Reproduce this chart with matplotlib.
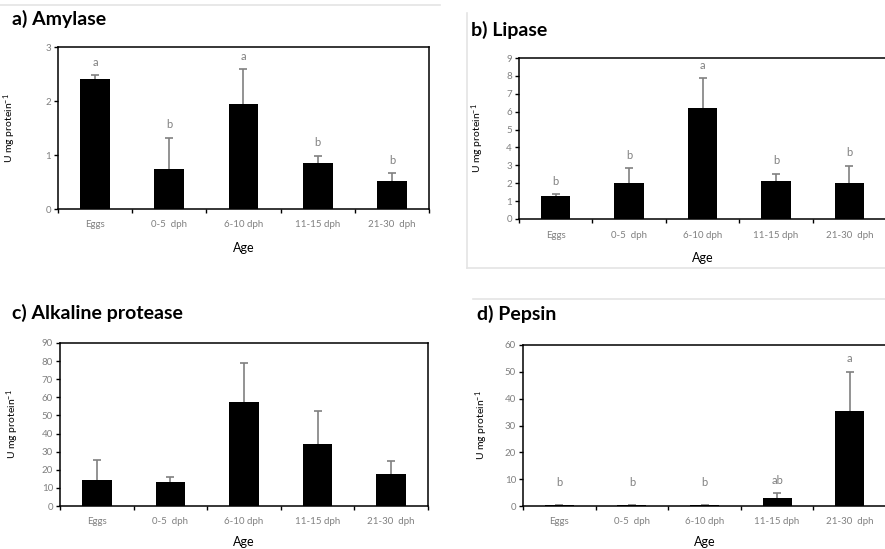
import matplotlib
matplotlib.use("Agg")
import matplotlib.pyplot as plt
from matplotlib.lines import Line2D

plt.rcParams['font.family'] = ['Lato', 'DejaVu Sans']
plt.rcParams['mathtext.fontset'] = 'custom'
plt.rcParams['mathtext.rm'] = 'Lato'
plt.rcParams['mathtext.it'] = 'Lato:italic'
plt.rcParams['mathtext.bf'] = 'Lato:bold'

# ---------------- data ----------------
categories = ['Eggs', '0-5  dph', '6-10 dph', '11-15 dph', '21-30  dph']

amylase_mean = [2.41, 0.74, 1.94, 0.85, 0.52]
amylase_err = [0.07, 0.58, 0.65, 0.14, 0.14]
amylase_letters = ['a', 'b', 'a', 'b', 'b']

lipase_mean = [1.30, 2.04, 6.22, 2.11, 2.04]
lipase_err = [0.07, 0.81, 1.65, 0.41, 0.94]
lipase_letters = ['b', 'b', 'a', 'b', 'b']

alkaline_mean = [14.1, 13.5, 57.4, 34.3, 17.8]
alkaline_err = [11.1, 2.6, 21.3, 18.1, 6.8]
alkaline_letters = ['', '', '', '', '']

pepsin_mean = [0.2, 0.3, 0.2, 3.1, 35.4]
pepsin_err = [0.0, 0.0, 0.0, 1.6, 14.6]
pepsin_letters = ['b', 'b', 'b', 'ab', 'a']

W, H = 885, 549
fig = plt.figure(figsize=(W / 100, H / 100), dpi=100)
fig.patch.set_facecolor('white')

GRAY = '#808080'
LINEGRAY = '#e4e4e4'


def rect(l, r, t, b):
    return [l / W, 1 - b / H, (r - l) / W, (b - t) / H]


def panel(box, title, title_xy, means, errs, letters, ymax, ystep,
          ylab_dist, xtick_dist, xlab_dist, letter_floor=0.0):
    l, r, t, b = box
    ax = fig.add_axes(rect(l, r, t, b))
    wpx, hpx = r - l, b - t
    x = list(range(len(categories)))
    eb = ax.errorbar(x, means, yerr=[[0] * len(errs), errs], fmt='none',
                     ecolor=GRAY, elinewidth=1.2, capsize=3, capthick=1.2, zorder=1)
    # only the upper caps are shown
    eb[1][0].set_visible(False)
    ax.bar(x, means, width=0.4, color='black', zorder=2)
    ax.set_xlim(-0.5, len(categories) - 0.5)
    ax.set_ylim(0, ymax)
    n = int(round(ymax / ystep))
    ax.set_yticks([i * ystep for i in range(n + 1)])
    ax.set_yticklabels([f'{i * ystep:g}' for i in range(n + 1)])
    ax.tick_params(axis='y', direction='out', length=3, width=1, colors='black',
                   labelcolor=GRAY, labelsize=7, pad=2)
    # category boundaries as major ticks, labels as minor ticks at centers
    ax.set_xticks([i - 0.5 for i in range(len(categories) + 1)])
    ax.set_xticklabels([''] * (len(categories) + 1))
    ax.set_xticks(x, minor=True)
    ax.set_xticklabels(categories, minor=True)
    ax.tick_params(axis='x', which='major', direction='out', length=3, width=1)
    ax.tick_params(axis='x', which='minor', length=0, labelcolor=GRAY,
                   labelsize=7, pad=xtick_dist * 0.72)
    for lbl in ax.get_xticklabels(minor=True):
        lbl.set_va('center')
    for s in ax.spines.values():
        s.set_linewidth(1.1)
        s.set_color('black')
    ax.set_ylabel('U mg protein$^{-1}$', fontsize=7.5, color='black', va='center')
    ax.yaxis.set_label_coords(-ylab_dist / wpx, 0.5)
    ax.set_xlabel('Age', fontsize=9, color='black', va='center')
    ax.xaxis.set_label_coords(0.5, -xlab_dist / hpx)
    # significance letters
    off = 13 * ymax / hpx
    for xi, m, e, let in zip(x, means, errs, letters):
        if let:
            ax.text(xi, max(m + e + off, letter_floor), let, ha='center',
                    va='center', fontsize=8, color=GRAY)
    fig.text(title_xy[0] / W, 1 - title_xy[1] / H, title, fontsize=14,
             fontweight='bold', ha='left', va='center')
    return ax


panel((58, 429, 47, 209), 'a) Amylase', (12, 19), amylase_mean, amylase_err,
      amylase_letters, 3, 1, 48, 15, 39)
panel((519, 886, 58, 219), 'b) Lipase', (471, 30), lipase_mean, lipase_err,
      lipase_letters, 9, 1, 41, 16, 39)
panel((60, 428, 343, 506), 'c) Alkaline protease', (12, 313), alkaline_mean,
      alkaline_err, alkaline_letters, 90, 10, 47, 15, 36)
panel((523, 886, 345, 506), 'd) Pepsin', (477, 314), pepsin_mean, pepsin_err,
      pepsin_letters, 60, 10, 41, 16, 36, letter_floor=8.6)

# light panel frame lines
def fline(x0, y0, x1, y1):
    fig.add_artist(Line2D([x0 / W, x1 / W], [1 - y0 / H, 1 - y1 / H],
                          color=LINEGRAY, lw=1.2, transform=fig.transFigure))

fline(0, 5, 440, 5)
fline(467, 13, 467, 268)
fline(467, 268, 885, 268)
fline(473, 299, 885, 299)

fig.savefig('out.png', dpi=100)
